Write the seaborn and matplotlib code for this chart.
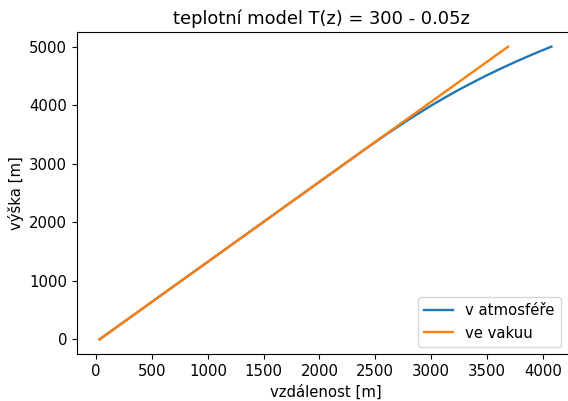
import numpy as np
import pandas as pd
import matplotlib
matplotlib.use("Agg")
import matplotlib.pyplot as plt
import seaborn as sns

# heights [m] and horizontal distances [m]
vyska = [0, 500, 1000, 1500, 2000, 2500, 3000, 3250, 3500, 3750, 3875, 4000,
         4125, 4250, 4375, 4500, 4625, 4750, 4875, 5000]
x_atm = [30, 396, 762, 1128, 1494, 1860, 2227, 2410, 2598, 2796, 2900, 3007,
         3119, 3236, 3360, 3488, 3624, 3767, 3918, 4078]
x_vak = [30, 396, 762, 1128, 1494, 1860, 2226, 2409, 2592, 2775, 2867, 2958,
         3050, 3141, 3233, 3324, 3416, 3507, 3599, 3690]

df = pd.DataFrame({
    "x": x_atm + x_vak,
    "z": vyska + vyska,
    "serie": ["v atmosféře"] * len(x_atm) + ["ve vakuu"] * len(x_vak),
})

plt.rcParams["font.size"] = 10.7
fig, ax = plt.subplots(figsize=(5.68, 4.01), dpi=100)
# the reference is cropped: its right spine lies just past the image edge
ax.set_position([77 / 568, 1 - 354 / 401, (574 - 77) / 568, (354 - 32) / 401])
sns.lineplot(data=df, x="x", y="z", hue="serie", sort=False, estimator=None,
             palette=["#1f77b4", "#ff7f0e"], linewidth=1.7, ax=ax)
ax.set_title("teplotní model T(z) = 300 - 0.05z", fontsize=12.9, x=(321 - 77) / (574 - 77))
ax.set_xlabel("vzdálenost [m]")
ax.set_ylabel("výška [m]")
ax.set_xticks(np.arange(0, 4001, 500))
ax.legend(loc="lower right", bbox_to_anchor=(1 - 6 / 497, 0))
fig.savefig("out.png")
